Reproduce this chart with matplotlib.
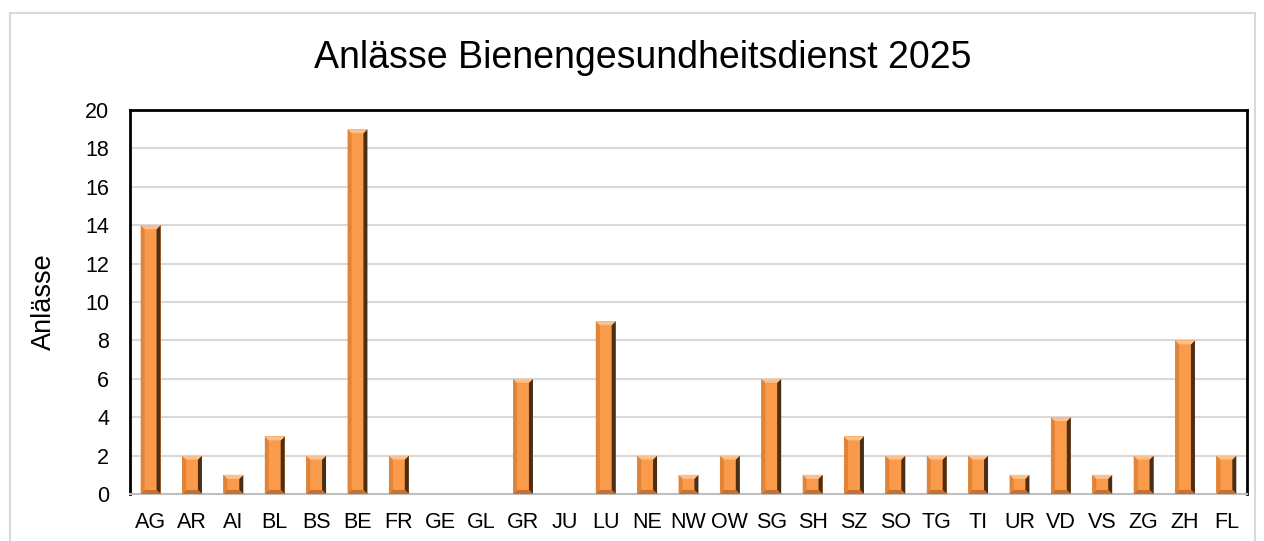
import matplotlib.pyplot as plt
import matplotlib.patches as mpatches
import numpy as np

plt.rcParams['font.family'] = ['Liberation Sans', 'DejaVu Sans']

kantone = ['AG', 'AR', 'AI', 'BL', 'BS', 'BE', 'FR', 'GE', 'GL', 'GR', 'JU', 'LU', 'NE', 'NW',
           'OW', 'SG', 'SH', 'SZ', 'SO', 'TG', 'TI', 'UR', 'VD', 'VS', 'ZG', 'ZH', 'FL']
anlaesse = [14, 2, 1, 3, 2, 19, 2, 0, 0, 6, 0, 9, 2, 1,
            2, 6, 1, 3, 2, 2, 2, 1, 4, 1, 2, 8, 2]

fig = plt.figure(figsize=(12.64, 5.41), dpi=100)
ax = fig.add_axes([0.1028, 0.0869, 0.9866 - 0.1028, 0.7967 - 0.0869])

# Rahmen um das ganze Diagramm
fig.patches.append(mpatches.Rectangle((10 / 1264, -0.05), (1255 - 10) / 1264, 1.05 - 13 / 541,
                                      transform=fig.transFigure, fill=False,
                                      edgecolor='#d9d9d9', linewidth=1.5))

x = np.arange(len(kantone))
breite = 0.48
bars = ax.bar(x, anlaesse, width=breite, color='#F99B4B', edgecolor='none', zorder=2)

ax.set_xlim(-0.5, len(kantone) - 0.5)
ax.set_ylim(0, 20)

# Bevel-Effekt (Rand in Pixel -> Dateneinheiten)
ax_w = (0.9866 - 0.1028) * 1264
ax_h = (0.7967 - 0.0869) * 541
dx = 4.0 * len(kantone) / ax_w
dy = 4.0 * 20 / ax_h
for b in bars:
    x0, w, h = b.get_x(), b.get_width(), b.get_height()
    if h <= 0:
        continue
    x1 = x0 + w
    # links
    ax.add_patch(mpatches.Polygon([(x0, 0), (x0 + dx, dy), (x0 + dx, h - dy), (x0, h)],
                                  color='#E0843A', lw=0, zorder=3))
    # rechts dunkel
    ax.add_patch(mpatches.Polygon([(x1, 0), (x1 - dx, dy), (x1 - dx, h - dy), (x1, h)],
                                  color='#4A2E16', lw=0, zorder=3))
    # oben hell
    ax.add_patch(mpatches.Polygon([(x0, h), (x1, h), (x1 - dx, h - dy), (x0 + dx, h - dy)],
                                  color='#FCC08E', lw=0, zorder=3))
    # unten
    ax.add_patch(mpatches.Polygon([(x0, 0), (x1, 0), (x1 - dx, dy), (x0 + dx, dy)],
                                  color='#C8702F', lw=0, zorder=3))

ax.set_yticks(np.arange(0, 21, 2))
ax.set_xticks(x)
ax.set_xticklabels(kantone)
ax.tick_params(axis='both', length=0, labelsize=15.5)
ax.tick_params(axis='x', pad=13)
ax.tick_params(axis='y', pad=15)

ax.grid(axis='y', color='#d9d9d9', linewidth=1.5, zorder=0)
ax.set_axisbelow(True)

for s in ['left', 'top', 'right']:
    ax.spines[s].set_color('black')
    ax.spines[s].set_linewidth(2)
ax.spines['bottom'].set_color('#bfbfbf')
ax.spines['bottom'].set_linewidth(1.5)

ax.set_ylabel('Anlässe', fontsize=19.5, labelpad=20)
fig.text(643 / 1264, 1 - 58 / 541, 'Anlässe Bienengesundheitsdienst 2025',
         ha='center', va='center', fontsize=27)

fig.savefig('out.png', dpi=100)
